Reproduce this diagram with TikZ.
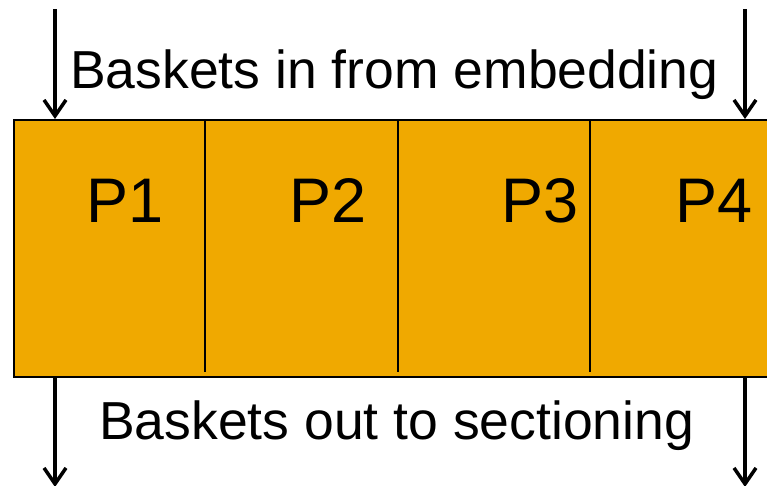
\documentclass[tikz,border=0pt]{standalone}
\usepackage{fontspec}
\setmainfont{Liberation Sans}
\usetikzlibrary{arrows.meta}
\definecolor{boxorange}{HTML}{F0A900}
\tikzset{
  flow/.style={line width=3.5pt, -{Straight Barb[length=16pt,width=22pt,line width=3.5pt]}},
  divider/.style={line width=1.6pt},
  lbl/.style={inner sep=0pt, anchor=base west, font=\fontsize{53.5}{60}\selectfont},
  plbl/.style={inner sep=0pt, anchor=base west, font=\fontsize{63}{70}\selectfont},
}
\begin{document}
\begin{tikzpicture}[x=1pt,y=-1pt]
\useasboundingbox (0,0) rectangle (767,485);
\node[draw, fill=boxorange, line width=2pt, anchor=north west, minimum width=800pt, minimum height=257pt, inner sep=0pt] (box) at (13,119) {};
\draw[divider] (205,119) -- (205,372);
\draw[divider] (398,119) -- (398,372);
\draw[divider] (590,119) -- (590,372);
\coordinate (tl) at (55,9);
\coordinate (tr) at (745,9);
\coordinate (bl) at (55,487);
\coordinate (br) at (745,487);
\draw[flow] (tl) -- (tl |- box.north);
\draw[flow] (tr) -- (tr |- box.north);
\draw[flow] (bl |- box.south) -- (bl);
\draw[flow] (br |- box.south) -- (br);
\node[lbl] (tin) at (70,88) {Baskets in from embedding};
\node[lbl] (tout) at (99,439) {Baskets out to sectioning};
\node[plbl] (p1) at (86,222) {P1};
\node[plbl] (p2) at (289,222) {P2};
\node[plbl] (p3) at (501,222) {P3};
\node[plbl] (p4) at (675,222) {P4};
\end{tikzpicture}
\end{document}
